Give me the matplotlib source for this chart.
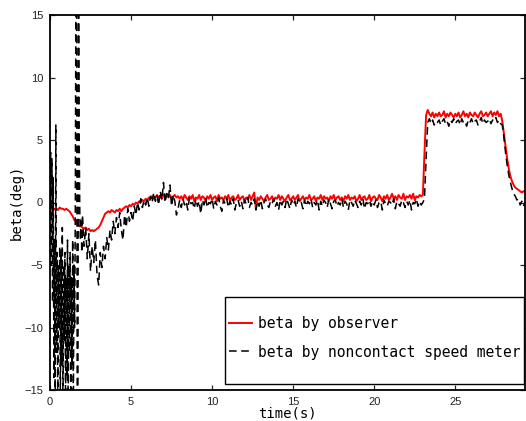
import numpy as np
import matplotlib
matplotlib.use("Agg")
import matplotlib.pyplot as plt
from matplotlib.patches import Rectangle

# ---------------- data ----------------
# observer estimate, sampled every 0.1 s from 0.0 to 29.3 s
t_obs = np.round(np.arange(0, 294) * 0.1, 1)
beta_obs = [
    -0.5, -0.4, -0.6, -0.5, -0.5, -0.6, -0.4, -0.5, -0.5, -0.6,
    -0.5, -0.6, -0.7, -0.9, -1.1, -1.4, -1.5, -1.7, -1.9, -1.9,
    -2.0, -2.1, -2.0, -2.2, -2.1, -2.3, -2.2, -2.3, -2.2, -2.1,
    -2.0, -1.8, -1.5, -1.2, -0.9, -0.8, -0.7, -0.8, -0.6, -0.7,
    -0.8, -0.6, -0.7, -0.5, -0.7, -0.5, -0.4, -0.3, -0.4, -0.2,
    -0.3, -0.1, -0.2, 0.0, -0.1, 0.1, 0.0, 0.2, 0.1, 0.3,
    0.2, 0.4, 0.3, 0.5, 0.3, 0.4, 0.6, 0.4, 0.5, 0.3,
    0.6, 0.5, 0.7, 0.4, 0.6, 0.3, 0.5, 0.6, 0.4, 0.5,
    0.3, 0.5, 0.2, 0.6, 0.4, 0.2, 0.5, 0.3, 0.6, 0.1,
    0.4, 0.3, 0.6, 0.2, 0.5, 0.4, 0.1, 0.5, 0.3, 0.6,
    0.2, 0.4, 0.5, 0.1, 0.6, 0.3, 0.4, 0.2, 0.5, 0.3,
    0.6, 0.1, 0.4, 0.5, 0.2, 0.3, 0.6, 0.2, 0.4, 0.5,
    0.1, 0.4, 0.3, 0.6, 0.2, 0.5, 0.8, -0.5, 0.4, 0.2,
    0.5, 0.3, 0.1, 0.4, 0.6, 0.2, 0.3, 0.5, 0.1, 0.4,
    0.3, 0.6, 0.2, 0.5, 0.3, 0.1, 0.4, 0.6, 0.2, 0.3,
    0.5, 0.2, 0.4, 0.6, 0.1, 0.3, 0.5, 0.2, 0.4, 0.3,
    0.6, 0.2, 0.3, 0.5, 0.1, 0.4, 0.3, 0.6, 0.2, 0.5,
    0.3, 0.4, 0.1, 0.5, 0.3, 0.6, 0.2, 0.4, 0.5, 0.2,
    0.4, 0.1, 0.5, 0.3, 0.6, 0.2, 0.4, 0.3, 0.5, 0.1,
    0.3, 0.6, 0.2, 0.4, 0.5, 0.2, 0.3, 0.6, 0.1, 0.4,
    0.5, 0.3, 0.2, 0.6, 0.4, 0.1, 0.5, 0.3, 0.6, 0.2,
    0.4, 0.7, 0.3, 0.5, 0.2, 0.6, 0.4, 0.3, 0.7, 0.2,
    0.5, 0.4, 0.6, 0.3, 0.7, 0.2, 0.5, 0.4, 0.6, 0.5,
    0.6, 4.0, 7.0, 7.4, 7.1, 6.9, 7.2, 6.8, 7.1, 6.9,
    7.2, 6.9, 7.0, 7.3, 6.8, 7.1, 6.9, 7.2, 7.0, 6.8,
    7.1, 6.9, 7.2, 6.8, 7.0, 7.3, 6.9, 7.1, 6.8, 7.2,
    7.0, 6.9, 7.2, 7.0, 6.8, 7.1, 7.3, 6.9, 7.0, 7.2,
    6.9, 7.1, 7.3, 6.9, 7.2, 7.0, 7.3, 6.9, 7.1, 6.5,
    5.5, 4.5, 3.5, 2.7, 2.1, 1.7, 1.4, 1.2, 1.1, 1.0,
    0.9, 0.8, 0.9, 0.8,
]

# noncontact speed meter: 0.04 s samples up to 1.96 s, then 0.1 s samples
t_meter_early = np.round(np.arange(0, 50) * 0.04, 2)
beta_meter_early = [
    -1.0, 4.0, -5.0, 3.5, -8.0, 2.0, -14.0, -3.0, -16.0, 6.2,
    -12.0, -4.0, -17.0, -5.0, -10.0, -3.5, -16.0, -4.0, -13.0, -2.0,
    -17.0, -5.0, -11.0, -4.0, -16.0, -6.0, -14.0, -3.0, -17.0, -5.0,
    -12.0, -4.0, -16.0, -6.0, -13.0, -3.0, -17.0, -5.0, -10.0, -1.0,
    18.0, 20.0, -17.0, -18.0, 19.0, 5.0, -1.0, -3.0, -1.5, -4.0,
]
t_meter_late = np.round(2.0 + np.arange(0, 274) * 0.1, 1)
beta_meter_late = [
    -1.0, -3.5, -2.0, -4.5, -2.5, -5.5, -3.5, -4.8, -3.0, -5.8,
    -6.6, -4.0, -5.2, -3.5, -4.5, -2.8, -3.8, -2.2, -3.0, -1.5,
    -2.5, -1.2, -2.0, -0.8, -2.2, -3.0, -1.0, -2.0, -0.5, -1.5,
    -0.8, -1.5, -0.3, -1.0, 0.0, -0.6, 0.3, -0.4, 0.2, -0.2,
    0.4, -0.3, 0.5, 0.0, 0.8, 0.1, 0.6, -0.2, 0.9, 0.2,
    1.6, 0.0, 0.7, 0.3, 1.4, -0.3, 0.6, 0.1, -1.0, -0.5,
    0.2, -0.4, 0.3, -0.2, 0.1, -0.6, 0.4, -0.1, 0.0, -0.5,
    0.3, -0.3, 0.1, -0.9, 0.2, -0.2, 0.4, -0.4, 0.0, -0.1,
    0.3, -0.5, 0.1, -0.2, 0.4, -0.3, -0.7, 0.2, -0.1, 0.3,
    -0.4, 0.1, -0.2, 0.3, -0.6, 0.0, 0.2, -0.3, 0.1, -0.5,
    0.2, -0.1, 0.4, -0.4, 0.0, -0.2, 0.3, -0.6, 0.1, -0.3,
    0.2, -0.5, 0.0, 0.3, -0.2, -0.4, 0.1, -0.1, 0.3, -0.3,
    0.0, -0.6, 0.2, -0.2, 0.1, -0.4, 0.3, -0.1, -0.5, 0.2,
    -0.2, 0.1, -0.4, 0.3, -0.1, 0.0, -0.5, 0.2, -0.3, 0.1,
    -0.1, 0.3, -0.4, 0.0, -0.2, 0.2, -0.6, 0.1, -0.3, 0.2,
    0.0, -0.4, 0.3, -0.1, -0.5, 0.1, 0.2, -0.3, 0.0, -0.2,
    0.3, -0.4, 0.1, -0.1, -0.6, 0.2, 0.0, -0.3, 0.2, -0.1,
    -0.4, 0.1, -0.2, 0.3, -0.5, 0.0, -0.1, 0.2, -0.3, 0.1,
    -0.2, 0.2, -0.4, 0.0, 0.1, -0.6, 0.2, -0.1, -0.3, 0.1,
    0.0, -0.2, 0.3, -0.5, 0.1, -0.1, -0.3, 0.2, 0.0, -0.4,
    0.1, -0.2, 0.2, -0.6, 0.0, -0.1, 0.3, -0.3, 0.1, -0.2,
    0.0, 0.3, 3.5, 6.4, 6.7, 6.3, 6.6, 6.2, 6.5, 6.4,
    6.6, 6.2, 6.5, 6.7, 6.3, 6.5, 6.1, 6.6, 6.4, 6.7,
    6.3, 6.5, 6.6, 6.2, 6.7, 6.4, 6.5, 6.1, 6.6, 6.4,
    6.7, 6.3, 6.5, 6.6, 6.2, 6.5, 6.8, 6.3, 6.6, 6.4,
    6.5, 6.7, 6.3, 6.6, 6.5, 6.8, 6.4, 6.6, 6.3, 6.2,
    5.2, 4.0, 3.0, 2.2, 1.6, 1.1, 0.7, 0.5, 0.2, 0.3,
    -0.2, 0.1, -0.3, 0.0,
]
t_meter = np.concatenate([t_meter_early, t_meter_late])
beta_meter = beta_meter_early + beta_meter_late

labels = ["beta by observer", "beta by noncontact speed meter"]
x_ticks = [0, 5, 10, 15, 20, 25]
y_ticks = [-15, -10, -5, 0, 5, 10, 15]

# ---------------- plot ----------------
fig = plt.figure(figsize=(5.26, 4.21), dpi=100)
ax = fig.add_axes([50 / 526, 31 / 421, 475 / 526, 375 / 421])

ax.plot(t_obs, beta_obs, color="red", lw=1.4, label=labels[0])
ax.plot(t_meter, beta_meter, color="black", lw=1.1, ls=(0, (5, 3)),
        label=labels[1])

ax.set_xlim(0, 29.3)
ax.set_ylim(-15, 15)
ax.set_xticks(x_ticks)
ax.set_yticks(y_ticks)
ax.tick_params(direction="in", top=True, right=True, length=3.5, width=0.9,
               labelsize=8, colors="#222222", pad=5)
for lab in ax.get_xticklabels() + ax.get_yticklabels():
    lab.set_family("Liberation Sans")
for sp in ax.spines.values():
    sp.set_linewidth(1.3)

ax.set_xlabel("time(s)", family="DejaVu Sans Mono", fontsize=10, labelpad=0)
ax.set_ylabel("beta(deg)", family="DejaVu Sans Mono", fontsize=10, labelpad=0)

# legend box (drawn as a separate frame for the wide inner padding)
box = Rectangle((0.368, 0.016), 0.630, 0.232, transform=ax.transAxes,
                facecolor="white", edgecolor="black", lw=1.0, zorder=4)
ax.add_patch(box)
leg = ax.legend(loc="upper left", bbox_to_anchor=(0.37, 0.206),
                prop={"family": "DejaVu Sans Mono", "size": 10.5},
                frameon=False, handlelength=1.6, handletextpad=0.4,
                borderpad=0.2, labelspacing=0.95, borderaxespad=0)
leg.set_zorder(5)

fig.savefig("out.png", dpi=100)
